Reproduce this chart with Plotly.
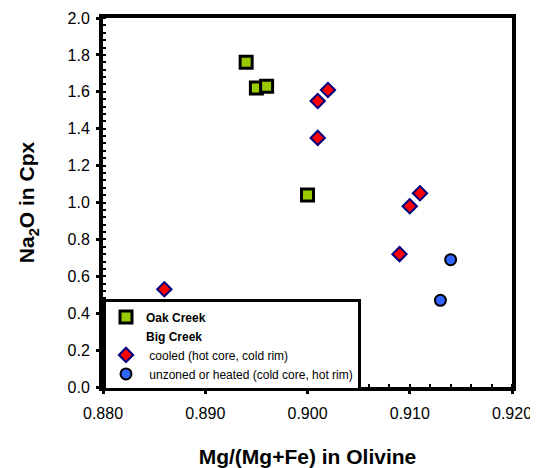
import plotly.graph_objects as go

# Oak Creek
oak_x = [0.894, 0.895, 0.896, 0.900]
oak_y = [1.76, 1.62, 1.63, 1.04]

# Big Creek - cooled (hot core, cold rim)
cooled_x = [0.902, 0.901, 0.901, 0.911, 0.910, 0.909, 0.886]
cooled_y = [1.61, 1.55, 1.35, 1.05, 0.98, 0.72, 0.53]

# Big Creek - unzoned or heated (cold core, hot rim)
unz_x = [0.914, 0.913]
unz_y = [0.69, 0.47]

FONT = "Liberation Sans, Arial, sans-serif"

fig = go.Figure()
fig.add_trace(go.Scatter(
    x=oak_x, y=oak_y, mode="markers", name="<b>Oak Creek</b>",
    marker=dict(symbol="square", size=12, color="#99CC00",
                line=dict(color="black", width=3))))
fig.add_trace(go.Scatter(
    x=[None], y=[None], mode="markers", name="<b>Big Creek</b>",
    marker=dict(symbol="square", size=10, color="rgba(0,0,0,0)",
                line=dict(color="rgba(0,0,0,0)", width=0))))
fig.add_trace(go.Scatter(
    x=cooled_x, y=cooled_y, mode="markers",
    name="&nbsp;cooled (hot core, cold rim)",
    marker=dict(symbol="diamond", size=11, color="#FF0000",
                line=dict(color="#000080", width=2))))
fig.add_trace(go.Scatter(
    x=unz_x, y=unz_y, mode="markers",
    name="&nbsp;unzoned or heated (cold core, hot rim)",
    marker=dict(symbol="circle", size=11, color="#3366FF",
                line=dict(color="black", width=2))))

axis_common = dict(
    showgrid=False, zeroline=False, showline=True, linecolor="black",
    linewidth=4, mirror=True, ticks="outside", ticklen=3, tickwidth=3,
    tickcolor="black", tickfont=dict(family=FONT, size=16, color="black"),
    automargin=False,
)

fig.update_layout(
    width=530, height=460,
    margin=dict(l=95, r=26, t=10, b=81),
    paper_bgcolor="white", plot_bgcolor="white",
    font=dict(family=FONT, color="black"),
    xaxis=dict(range=[0.88, 0.92], dtick=0.01, tick0=0.88, tickformat=".3f",
               ticklabelstandoff=6,
               title=dict(text="<b>Mg/(Mg+Fe) in Olivine</b>",
                          font=dict(family=FONT, size=21), standoff=29),
               minor=dict(ticks="inside", ticklen=3, tickwidth=2,
                          tickcolor="black", dtick=0.002),
               **axis_common),
    yaxis=dict(range=[0, 2.0], dtick=0.2, tick0=0, tickformat=".1f",
               ticklabelstandoff=3,
               title=dict(text="<b>Na<sub>2</sub>O in Cpx</b>",
                          font=dict(family=FONT, size=21), standoff=28),
               minor=dict(ticks="inside", ticklen=3, tickwidth=2,
                          tickcolor="black", dtick=0.04),
               **axis_common),
    legend=dict(x=0, y=-0.012, xanchor="left", yanchor="bottom",
                bgcolor="white", bordercolor="black", borderwidth=3,
                font=dict(family=FONT, size=12, color="black"),
                tracegroupgap=0, itemwidth=30),
    showlegend=True,
)

fig.write_html("out.html")
